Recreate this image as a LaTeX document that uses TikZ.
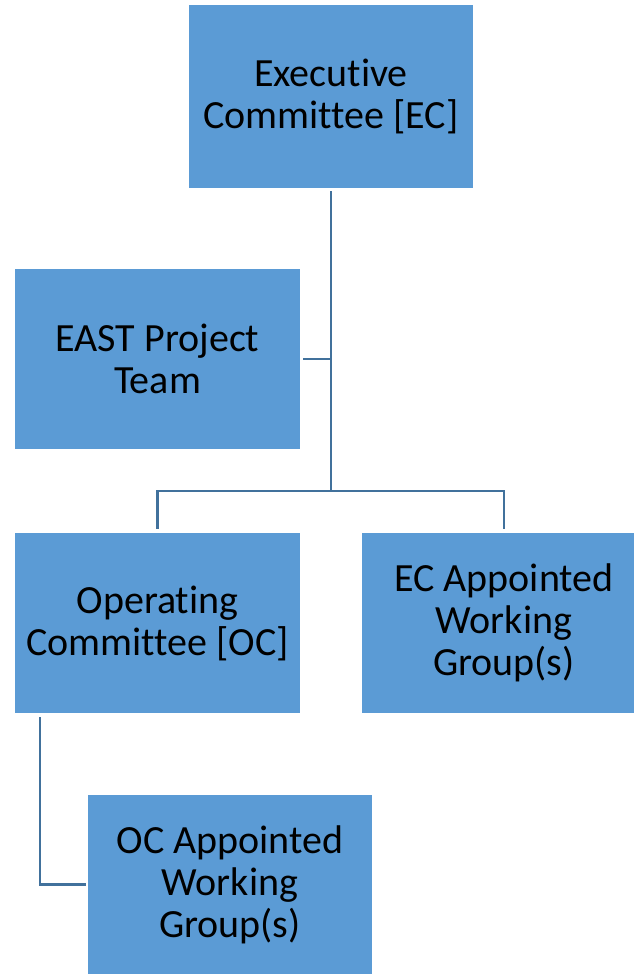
\documentclass[tikz,border=0pt]{standalone}
\usepackage{fontspec}
\setmainfont[Ligatures=NoCommon]{Carlito}
\definecolor{boxfill}{HTML}{5B9BD5}
\definecolor{linecol}{HTML}{41719C}
\begin{document}
\begin{tikzpicture}[x=1pt,y=-1pt,
  box/.style={fill=boxfill, draw=none, minimum width=284pt, align=center,
    font=\fontsize{40}{42}\selectfont, text=black, inner sep=0pt},
  conn/.style={draw=linecol, line width=2.6pt}]
\useasboundingbox (0,0) rectangle (634,974);
\node[box, minimum height=183pt] (ec) at (331,96.5) {Executive\\Committee [EC]};
\node[box, minimum width=285pt, minimum height=180pt] (east) at (157.5,359) {EAST Project\\Team};
\node[box, minimum width=285pt, minimum height=180pt] (oc) at (157.5,623) {Operating\\Committee [OC]};
\node[box, minimum height=180pt] (ecwg) at (504,623) {EC Appointed\\Working\\Group(s)};
\node[box, minimum height=180pt] (ocwg) at (230,884.5) {OC Appointed\\Working\\Group(s)};
\coordinate (j) at (331,491);
\coordinate (ocl) at (40,713);
\draw[conn, shorten <=3pt] (ec.south) -- (j);
\draw[conn, shorten <=3pt] (east.east) -- (east.east -| j);
\draw[conn, shorten >=4pt] (j) -| (oc.north);
\draw[conn, shorten >=4pt] (j) -| (ecwg.north);
\draw[conn, shorten <=4pt, shorten >=2pt] (ocl) |- (ocwg.west);
\end{tikzpicture}
\end{document}
